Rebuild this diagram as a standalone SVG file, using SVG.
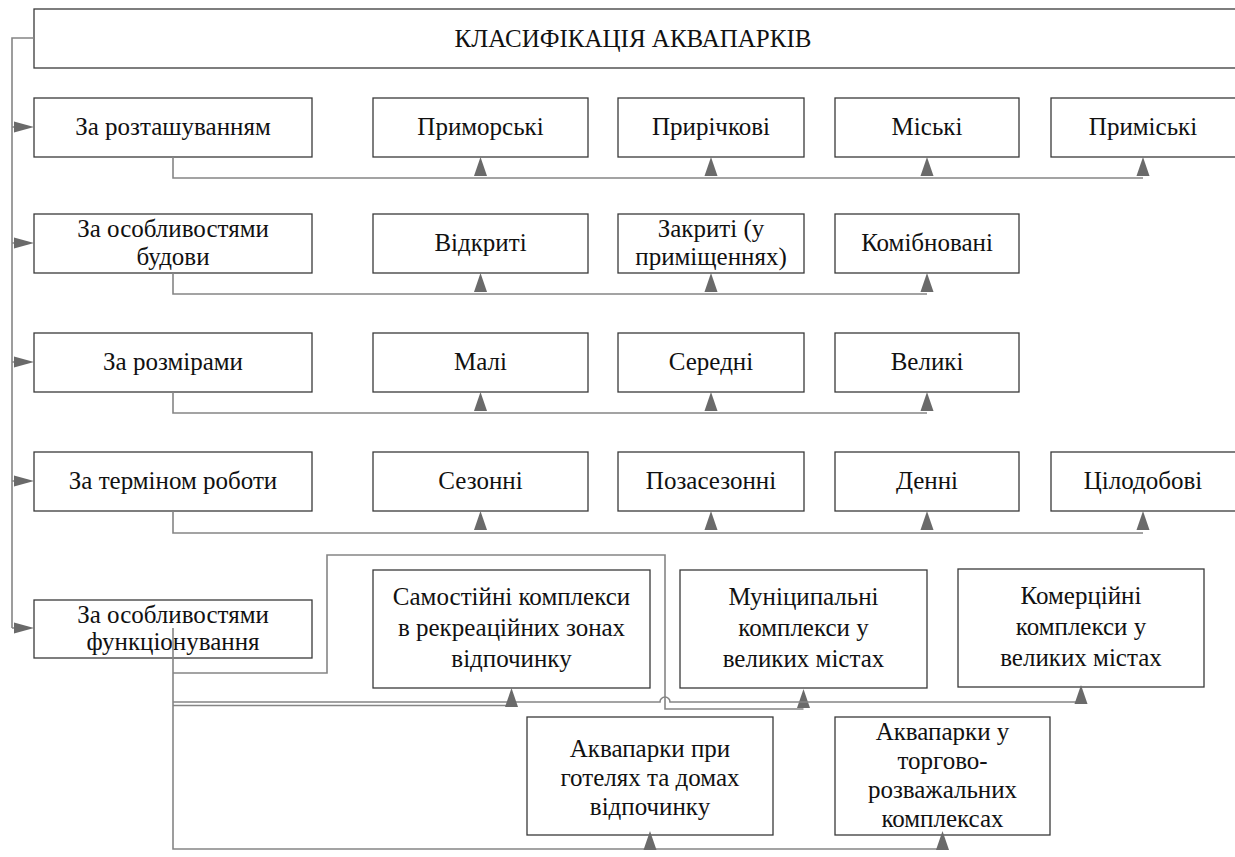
<svg xmlns="http://www.w3.org/2000/svg" width="1235" height="857" viewBox="0 0 1235 857" font-family="Liberation Serif, DejaVu Serif, serif" font-size="25">
<style>
.box{fill:#fff;stroke:#3a3a3a;stroke-width:1.3}
text{fill:#111;text-anchor:middle}
.c{fill:none;stroke:#858585;stroke-width:1.6}
.a{fill:#6a6a6a}
</style>
<defs>
<path id="up" class="a" d="M0,0 L-6.5,19 L6.5,19 Z"/>
<path id="rt" class="a" d="M0,0 L-20,-5.5 L-20,5.5 Z"/>
</defs>
<rect width="1235" height="857" fill="#fff"/>

<g id="title"><rect class="box" x="34" y="9" width="1205" height="59"/><text x="633" y="47">КЛАСИФІКАЦІЯ АКВАПАРКІВ</text></g>

<g id="r1c0"><rect class="box" x="34" y="98" width="278" height="59"/><text x="173" y="135">За розташуванням</text></g>
<g id="r1c1"><rect class="box" x="373" y="98" width="215" height="59"/><text x="480.5" y="135">Приморські</text></g>
<g id="r1c2"><rect class="box" x="618" y="98" width="186" height="59"/><text x="711" y="135">Прирічкові</text></g>
<g id="r1c3"><rect class="box" x="835" y="98" width="184" height="59"/><text x="927" y="135">Міські</text></g>
<g id="r1c4"><rect class="box" x="1051" y="98" width="190" height="59"/><text x="1143" y="135">Приміські</text></g>

<g id="r2c0"><rect class="box" x="34" y="214" width="278" height="59"/><text x="173" y="237">За особливостями</text><text x="173" y="265">будови</text></g>
<g id="r2c1"><rect class="box" x="373" y="214" width="215" height="59"/><text x="480.5" y="251">Відкриті</text></g>
<g id="r2c2"><rect class="box" x="618" y="214" width="186" height="59"/><text x="711" y="237">Закриті (у</text><text x="711" y="265">приміщеннях)</text></g>
<g id="r2c3"><rect class="box" x="835" y="214" width="184" height="59"/><text x="927" y="251">Комібновані</text></g>

<g id="r3c0"><rect class="box" x="34" y="333" width="278" height="59"/><text x="173" y="370">За розмірами</text></g>
<g id="r3c1"><rect class="box" x="373" y="333" width="215" height="59"/><text x="480.5" y="370">Малі</text></g>
<g id="r3c2"><rect class="box" x="618" y="333" width="186" height="59"/><text x="711" y="370">Середні</text></g>
<g id="r3c3"><rect class="box" x="835" y="333" width="184" height="59"/><text x="927" y="370">Великі</text></g>

<g id="r4c0"><rect class="box" x="34" y="452" width="278" height="59"/><text x="173" y="489">За терміном роботи</text></g>
<g id="r4c1"><rect class="box" x="373" y="452" width="215" height="59"/><text x="480.5" y="489">Сезонні</text></g>
<g id="r4c2"><rect class="box" x="618" y="452" width="186" height="59"/><text x="711" y="489">Позасезонні</text></g>
<g id="r4c3"><rect class="box" x="835" y="452" width="184" height="59"/><text x="927" y="489">Денні</text></g>
<g id="r4c4"><rect class="box" x="1051" y="452" width="190" height="59"/><text x="1143" y="489">Цілодобові</text></g>

<g id="r5c0"><rect class="box" x="34" y="600" width="278" height="58"/><text x="173" y="623">За особливостями</text><text x="173" y="650">функціонування</text></g>
<g id="r5c1"><rect class="box" x="373" y="570" width="277" height="118"/><text x="511.5" y="605">Самостійні комплекси</text><text x="511.5" y="636">в рекреаційних зонах</text><text x="511.5" y="667">відпочинку</text></g>
<g id="r5c2"><rect class="box" x="680" y="570" width="247" height="118"/><text x="803.5" y="605">Муніципальні</text><text x="803.5" y="636">комплекси у</text><text x="803.5" y="667">великих містах</text></g>
<g id="r5c3"><rect class="box" x="958" y="569" width="246" height="118"/><text x="1081" y="604">Комерційні</text><text x="1081" y="635">комплекси у</text><text x="1081" y="666">великих містах</text></g>
<g id="r6c1"><rect class="box" x="527" y="717" width="246" height="118"/><text x="650" y="757">Аквапарки при</text><text x="650" y="786">готелях та домах</text><text x="650" y="815">відпочинку</text></g>
<g id="r6c2"><rect class="box" x="835" y="717" width="215" height="118"/><text x="942.5" y="740">Аквапарки у</text><text x="942.5" y="769">торгово-</text><text x="942.5" y="798">розважальних</text><text x="942.5" y="827">комплексах</text></g>

<g id="connectors">
<path class="c" d="M34,38 H12 V628"/>
<path class="c" d="M12,127 H22 M12,243 H22 M12,362 H22 M12,481 H22 M12,628 H22"/>
<use href="#rt" x="34" y="127"/><use href="#rt" x="34" y="243"/><use href="#rt" x="34" y="362"/><use href="#rt" x="34" y="481"/><use href="#rt" x="34" y="628"/>

<path class="c" d="M173,157 V178 H1143"/>
<use href="#up" x="480.5" y="157"/><use href="#up" x="711" y="157"/><use href="#up" x="927" y="157"/><use href="#up" x="1143" y="157"/>

<path class="c" d="M173,273 V294 H927"/>
<use href="#up" x="480.5" y="273"/><use href="#up" x="711" y="273"/><use href="#up" x="927" y="273"/>

<path class="c" d="M173,392 V413 H927"/>
<use href="#up" x="480.5" y="392"/><use href="#up" x="711" y="392"/><use href="#up" x="927" y="392"/>

<path class="c" d="M173,511 V533 H1143"/>
<use href="#up" x="480.5" y="511"/><use href="#up" x="711" y="511"/><use href="#up" x="927" y="511"/><use href="#up" x="1143" y="511"/>

<path class="c" d="M173,628 V849 H942.5"/>
<use href="#up" x="650" y="831"/>
<use href="#up" x="942.5" y="831"/>
<path class="c" d="M173,673 H327 V555 H665 V709 H803.5"/>
<use href="#up" x="803.5" y="689"/>
<path class="c" d="M173,702 H660 A5,5 0 0 1 670,702 H1081"/>
<path class="c" d="M173,705.5 H511.5"/>
<use href="#up" x="511.5" y="688"/>
<use href="#up" x="1081" y="685"/>
</g>
</svg>
